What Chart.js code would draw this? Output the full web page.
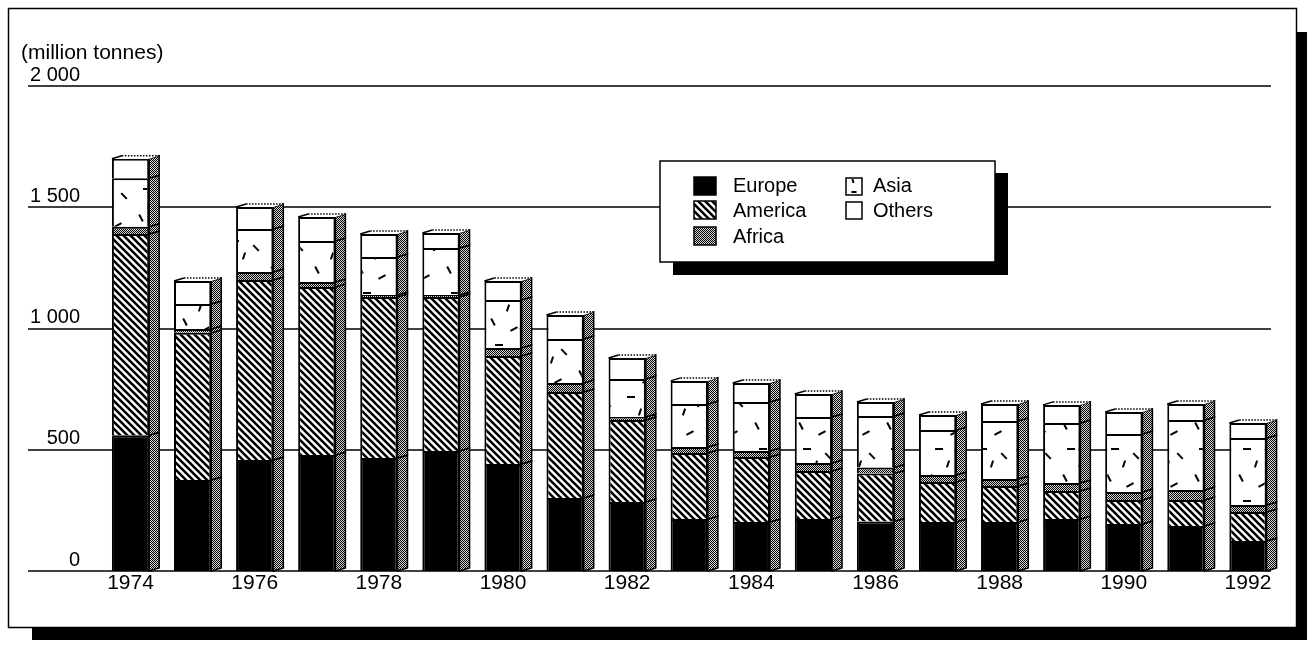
<!DOCTYPE html>
<html>
<head>
<meta charset="utf-8">
<title>Production by region, 1974-1992</title>
<script src="https://cdn.jsdelivr.net/npm/chart.js@4.4.1/dist/chart.umd.min.js"></script>
<style>
  html, body { margin: 0; padding: 0; background: #fff; }
  #wrap { width: 1308px; height: 649px; }
  canvas { display: block; }
</style>
</head>
<body>
<div id="wrap"><canvas id="chart" width="1308" height="649"></canvas></div>
<script>
const years = ['1974', '1975', '1976', '1977', '1978', '1979', '1980', '1981', '1982', '1983',
               '1984', '1985', '1986', '1987', '1988', '1989', '1990', '1991', '1992'];

// million tonnes per region, stacked bottom to top
const europe  = [560, 375, 458, 478, 466, 495, 441, 301, 285, 214, 202, 214, 204, 202, 202, 214, 194, 186, 124];
const america = [830, 607, 742, 693, 664, 635, 446, 437, 338, 273, 268, 198, 198, 165, 149, 116,  99, 107, 119];
const africa  = [ 30,  16,  33,  21,   8,   8,  33,  37,  12,  24,  25,  33,  25,  29,  28,  33,  33,  41,  29];
const asia    = [200, 103, 177, 169, 157, 194, 198, 182, 157, 178, 202, 190, 212, 185, 240, 247, 239, 289, 276];
const others  = [ 80,  95,  91,  99,  95,  62,  78,  99,  86,  95,  78,  95,  58,  62,  70,  75,  91,  66,  62];

const yTicks = [0, 500, 1000, 1500, 2000];
const yTickLabels = ['0', '500', '1 000', '1 500', '2 000'];
const unitLabel = '(million tonnes)';

const FONT = "'Liberation Sans', Arial, Helvetica, sans-serif";
const DX = 10;   // depth of the side face
const DY = 3;

const canvas = document.getElementById('chart');
const ctx = canvas.getContext('2d');

function makePattern(w, h, paint) {
    const tile = document.createElement('canvas');
    tile.width = w;
    tile.height = h;
    paint(tile.getContext('2d'));
    return ctx.createPattern(tile, 'repeat');
}

const stipple = makePattern(2, 2, g => {
    g.fillStyle = '#d8d8d8';
    g.fillRect(0, 0, 2, 2);
    g.fillStyle = '#000';
    g.fillRect(0, 0, 1, 1);
    g.fillRect(1, 1, 1, 1);
});

const hatch = makePattern(7, 7, g => {
    g.fillStyle = '#fff';
    g.fillRect(0, 0, 7, 7);
    g.strokeStyle = '#000';
    g.lineWidth = 2.6;
    g.beginPath();
    g.moveTo(-2, -2); g.lineTo(9, 9);
    g.moveTo(-2, 5); g.lineTo(2, 9);
    g.moveTo(5, -2); g.lineTo(9, 2);
    g.stroke();
});

function dash(g, cx, cy, a, len) {
    const dx = Math.cos(a) * len / 2, dy = Math.sin(a) * len / 2;
    g.beginPath();
    g.moveTo(cx - dx, cy - dy);
    g.lineTo(cx + dx, cy + dy);
    g.stroke();
}

const dashes = makePattern(44, 52, g => {
    g.fillStyle = '#fff';
    g.fillRect(0, 0, 44, 52);
    g.strokeStyle = '#000';
    g.lineWidth = 2;
    dash(g, 9, 10, 1.1, 8);
    dash(g, 30, 17, -0.5, 8);
    dash(g, 15, 33, 0, 8);
    dash(g, 36, 40, 0.8, 8);
    dash(g, 24, 48, 1.9, 7);
});

// frame with its heavy drop shadow, plus the unit label
const framePlugin = {
    id: 'frame',
    beforeDraw(chart) {
        const c = chart.ctx;
        c.save();
        c.fillStyle = '#000';
        c.fillRect(32, 32, 1275, 608);
        c.fillStyle = '#fff';
        c.fillRect(8, 8, 1289, 620);
        c.lineWidth = 1.5;
        c.strokeStyle = '#000';
        c.strokeRect(8.5, 8.5, 1288, 619);
        c.fillStyle = '#000';
        c.font = '21px ' + FONT;
        c.textBaseline = 'middle';
        c.textAlign = 'left';
        c.fillText(unitLabel, 21, 53);
        c.restore();
    }
};

// horizontal rules, running under the tick labels
const rulesPlugin = {
    id: 'rules',
    beforeDatasetsDraw(chart) {
        const c = chart.ctx;
        const y = chart.scales.y;
        c.save();
        c.strokeStyle = '#000';
        c.lineWidth = 1.5;
        yTicks.forEach(v => {
            const py = Math.round(y.getPixelForValue(v));
            c.beginPath();
            c.moveTo(28, py);
            c.lineTo(1271, py);
            c.stroke();
        });
        c.restore();
    }
};

// side and top faces of each column
const depthPlugin = {
    id: 'depth',
    afterDatasetsDraw(chart) {
        const c = chart.ctx;
        const n = chart.data.datasets.length;
        c.save();
        c.strokeStyle = '#000';
        c.lineWidth = 1.5;
        for (let d = 0; d < n; d++) {
            chart.getDatasetMeta(d).data.forEach(bar => {
                const { x, y, base, width } = bar.getProps(['x', 'y', 'base', 'width'], true);
                const l = x - width / 2;
                const r = x + width / 2;
                c.beginPath();
                c.moveTo(r, base);
                c.lineTo(r, y);
                c.lineTo(r + DX, y - DY);
                c.lineTo(r + DX, base - DY);
                c.closePath();
                c.fillStyle = stipple;
                c.fill();
                c.stroke();
                if (d === n - 1) {
                    c.beginPath();
                    c.moveTo(l, y);
                    c.lineTo(l + DX, y - DY);
                    c.lineTo(r + DX, y - DY);
                    c.lineTo(r, y);
                    c.closePath();
                    c.fillStyle = '#fff';
                    c.fill();
                    c.beginPath();
                    c.moveTo(l, y);
                    c.lineTo(l + DX, y - DY);
                    c.stroke();
                    c.save();
                    c.setLineDash([1.5, 1.5]);
                    c.beginPath();
                    c.moveTo(l + DX, y - DY);
                    c.lineTo(r + DX, y - DY);
                    c.stroke();
                    c.restore();
                }
            });
        }
        c.restore();
    }
};

// boxed key with shadow
const keyPlugin = {
    id: 'key',
    afterDraw(chart) {
        const c = chart.ctx;
        c.save();
        c.fillStyle = '#000';
        c.fillRect(673, 173, 335, 102);
        c.fillStyle = '#fff';
        c.fillRect(660, 161, 335, 101);
        c.strokeStyle = '#000';
        c.lineWidth = 1.5;
        c.strokeRect(660, 161, 335, 101);

        const swatch = (x, y, w, h, fill) => {
            c.fillStyle = fill;
            c.fillRect(x, y, w, h);
            c.lineWidth = 1.5;
            c.strokeRect(x, y, w, h);
        };
        swatch(694, 177, 22, 18, '#000');
        swatch(694, 201, 22, 18, hatch);
        swatch(694, 227, 22, 18, stipple);
        swatch(846, 178, 16, 17, '#fff');
        swatch(846, 202, 16, 17, '#fff');
        c.lineWidth = 2;
        dash(c, 854, 192, 0, 5);
        dash(c, 853, 181, 1.3, 4);

        c.fillStyle = '#000';
        c.font = '20px ' + FONT;
        c.textBaseline = 'middle';
        c.textAlign = 'left';
        c.fillText('Europe', 733, 186);
        c.fillText('America', 733, 211);
        c.fillText('Africa', 733, 237);
        c.fillText('Asia', 873, 186);
        c.fillText('Others', 873, 211);
        c.restore();
    }
};

const barStyle = {
    borderColor: '#000',
    borderWidth: 2,
    categoryPercentage: 1,
    barPercentage: 0.6
};

new Chart(ctx, {
    type: 'bar',
    data: {
        labels: years,
        datasets: [
            { label: 'Europe', data: europe, backgroundColor: '#000' },
            { label: 'America', data: america, backgroundColor: hatch },
            { label: 'Africa', data: africa, backgroundColor: stipple },
            { label: 'Asia', data: asia, backgroundColor: dashes },
            { label: 'Others', data: others, backgroundColor: '#fff' }
        ].map(ds => Object.assign(ds, barStyle))
    },
    options: {
        responsive: false,
        animation: false,
        layout: { padding: { left: 28, right: 29, top: 86, bottom: 38 } },
        plugins: {
            legend: { display: false },
            tooltip: { enabled: false }
        },
        scales: {
            x: {
                stacked: true,
                grid: { display: false, drawTicks: false },
                border: { display: false },
                ticks: {
                    autoSkip: false,
                    maxRotation: 0,
                    padding: 2,
                    color: '#000',
                    font: { family: FONT, size: 21, lineHeight: 1 },
                    callback: (v, i) => (i % 2 === 0 ? years[i] : '')
                },
                afterFit: s => { s.height = 40; }
            },
            y: {
                stacked: true,
                min: 0,
                max: 2000,
                grid: { display: false, drawTicks: false },
                border: { display: false },
                ticks: {
                    stepSize: 500,
                    padding: 19.5,
                    labelOffset: -11,
                    color: '#000',
                    font: { family: FONT, size: 20 },
                    callback: v => yTickLabels[yTicks.indexOf(v)]
                },
                afterFit: s => { s.width = 71.5; }
            }
        }
    },
    plugins: [framePlugin, rulesPlugin, depthPlugin, keyPlugin]
});
</script>
</body>
</html>
